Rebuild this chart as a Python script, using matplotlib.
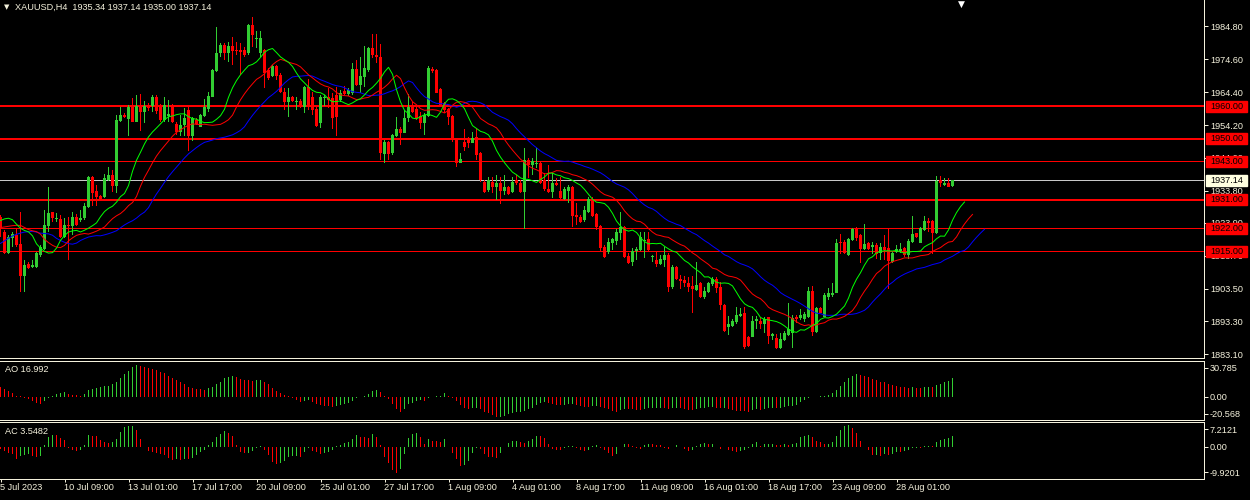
import numpy as np
import matplotlib
matplotlib.use('Agg')
import matplotlib.pyplot as plt
from matplotlib.patches import Rectangle
from matplotlib import transforms as mtransforms

plt.rcParams['font.family'] = ['Liberation Sans', 'DejaVu Sans']

# --- XAUUSD H4 candles (5 Jul 17:00 .. 30 Aug 05:00) ---
opens = [
    1925.8, 1921.1, 1914.4, 1919.3, 1920.1, 1917.3, 1907.4, 1911.0, 1910.3, 1910.3,
    1913.9, 1915.7, 1922.9, 1927.1, 1925.0, 1925.1, 1919.6, 1923.2, 1923.0, 1925.8,
    1924.8, 1925.5, 1928.7, 1938.0, 1933.8, 1932.2, 1932.0, 1937.2, 1938.7, 1935.3,
    1955.6, 1957.3, 1956.1, 1959.9, 1955.3, 1959.9, 1958.4, 1959.9, 1960.1, 1963.0,
    1960.4, 1955.8, 1957.0, 1960.2, 1954.5, 1952.2, 1954.2, 1958.9, 1950.8, 1955.8,
    1953.7, 1957.0, 1959.1, 1963.0, 1971.1, 1976.5, 1979.0, 1976.7, 1978.7, 1977.5,
    1977.5, 1977.5, 1976.5, 1985.2, 1980.8, 1976.7, 1977.5, 1971.3, 1969.4, 1972.5,
    1969.7, 1964.3, 1961.5, 1962.8, 1961.5, 1961.8, 1959.9, 1965.9, 1963.0, 1959.1,
    1954.7, 1962.5, 1963.0, 1962.5, 1963.5, 1962.0, 1964.8, 1963.7, 1964.0, 1971.5,
    1966.6, 1969.2, 1971.3, 1978.0, 1975.9, 1975.4, 1945.2, 1949.0, 1945.4, 1950.8,
    1953.0, 1951.8, 1956.3, 1960.1, 1959.1, 1957.0, 1954.7, 1957.0, 1971.5, 1971.3,
    1965.3, 1961.1, 1959.1, 1957.0, 1949.8, 1942.5, 1949.0, 1950.1, 1948.7, 1950.6,
    1945.4, 1936.6, 1934.1, 1936.6, 1935.1, 1936.3, 1933.9, 1934.9, 1933.5, 1937.2,
    1936.3, 1933.5, 1943.4, 1941.8, 1942.0, 1942.5, 1937.2, 1934.3, 1933.5, 1936.3,
    1933.9, 1931.2, 1933.9, 1934.9, 1926.3, 1925.6, 1924.6, 1927.3, 1931.2, 1926.6,
    1922.9, 1916.5, 1914.9, 1917.7, 1918.3, 1920.8, 1922.7, 1913.6, 1911.8, 1915.2,
    1915.5, 1918.2, 1918.8, 1913.2, 1912.4, 1911.1, 1912.4, 1913.9, 1903.9, 1910.3,
    1906.6, 1906.2, 1905.3, 1904.3, 1903.0, 1905.1, 1900.8, 1902.5, 1904.9, 1906.4,
    1904.1, 1898.4, 1891.5, 1891.9, 1893.0, 1895.0, 1895.8, 1888.6, 1888.6, 1893.5,
    1893.5, 1892.5, 1894.6, 1888.8, 1888.1, 1885.0, 1887.5, 1889.1, 1889.6, 1894.6,
    1894.3, 1893.9, 1894.8, 1902.8, 1890.1, 1897.4, 1894.8, 1901.0, 1901.5, 1902.2,
    1918.0, 1918.0, 1913.9, 1918.6, 1921.9, 1920.1, 1915.7, 1917.5, 1916.3, 1917.0,
    1914.4, 1916.3, 1916.0, 1911.8, 1914.9, 1915.2, 1916.0, 1913.9, 1918.0, 1920.6,
    1917.7, 1921.7, 1924.5, 1924.5, 1920.8, 1937.2, 1935.6, 1936.3, 1935.34,
]
highs = [
    1926.3, 1921.6, 1920.1, 1921.1, 1922.2, 1927.3, 1912.3, 1911.8, 1912.3, 1914.9,
    1917.0, 1927.9, 1935.1, 1927.3, 1926.8, 1926.3, 1925.3, 1925.8, 1927.3, 1926.6,
    1927.9, 1929.9, 1938.4, 1938.5, 1935.6, 1932.5, 1938.9, 1941.1, 1940.3, 1957.3,
    1959.7, 1957.8, 1960.4, 1962.5, 1963.5, 1963.7, 1961.8, 1960.9, 1963.5, 1963.5,
    1960.6, 1962.8, 1962.0, 1960.6, 1955.3, 1957.3, 1959.4, 1959.9, 1956.8, 1956.3,
    1957.6, 1962.2, 1964.6, 1971.5, 1984.5, 1979.6, 1979.6, 1980.1, 1981.4, 1980.1,
    1979.6, 1978.5, 1985.5, 1987.8, 1983.5, 1983.5, 1977.7, 1971.8, 1972.8, 1972.8,
    1970.2, 1965.6, 1965.6, 1963.2, 1962.8, 1962.2, 1966.3, 1968.4, 1964.6, 1959.9,
    1963.5, 1963.5, 1965.6, 1964.0, 1966.1, 1965.1, 1966.3, 1965.6, 1973.3, 1974.4,
    1975.4, 1978.7, 1978.5, 1982.4, 1982.4, 1979.3, 1949.6, 1949.2, 1951.4, 1956.8,
    1953.7, 1958.9, 1963.8, 1961.5, 1960.1, 1958.4, 1957.8, 1972.5, 1972.3, 1971.5,
    1965.6, 1961.5, 1959.4, 1957.3, 1950.1, 1945.6, 1952.9, 1950.4, 1952.2, 1953.2,
    1945.9, 1937.2, 1938.2, 1938.2, 1938.7, 1938.2, 1938.7, 1935.3, 1938.2, 1938.7,
    1937.2, 1947.0, 1943.9, 1943.9, 1947.0, 1942.9, 1939.2, 1941.8, 1939.2, 1937.9,
    1938.2, 1935.1, 1935.6, 1935.3, 1929.9, 1926.3, 1929.1, 1932.0, 1932.0, 1926.8,
    1923.2, 1917.0, 1919.1, 1919.1, 1921.9, 1927.3, 1922.9, 1914.4, 1916.0, 1916.5,
    1921.1, 1921.1, 1921.1, 1913.9, 1914.9, 1913.9, 1916.3, 1914.4, 1910.8, 1910.5,
    1907.7, 1907.4, 1907.0, 1907.4, 1911.8, 1905.6, 1903.9, 1905.6, 1907.0, 1907.0,
    1905.6, 1898.7, 1895.0, 1894.0, 1897.7, 1897.4, 1897.7, 1888.8, 1895.0, 1895.0,
    1894.3, 1894.6, 1894.8, 1889.8, 1889.4, 1889.8, 1890.4, 1898.9, 1895.3, 1895.3,
    1897.0, 1896.3, 1904.1, 1904.3, 1897.9, 1897.9, 1902.0, 1903.6, 1905.3, 1918.8,
    1920.4, 1918.6, 1919.1, 1922.2, 1922.7, 1920.4, 1923.5, 1918.0, 1918.0, 1917.5,
    1917.5, 1920.1, 1922.2, 1914.9, 1917.0, 1917.5, 1916.3, 1918.8, 1926.0, 1920.8,
    1922.7, 1926.0, 1925.3, 1924.8, 1938.4, 1938.4, 1937.7, 1937.7, 1937.14,
]
lows = [
    1919.6, 1914.2, 1914.2, 1916.5, 1916.5, 1902.5, 1902.5, 1909.5, 1909.8, 1909.8,
    1913.4, 1915.5, 1921.1, 1924.2, 1924.2, 1919.1, 1919.1, 1912.4, 1920.1, 1923.0,
    1924.2, 1924.8, 1928.4, 1929.1, 1929.1, 1930.8, 1931.7, 1936.7, 1933.5, 1933.2,
    1955.3, 1956.3, 1950.9, 1955.0, 1955.0, 1952.5, 1954.7, 1958.7, 1958.4, 1957.5,
    1955.3, 1955.3, 1955.3, 1954.7, 1951.1, 1950.8, 1950.8, 1946.0, 1949.4, 1954.2,
    1953.5, 1956.8, 1958.4, 1962.8, 1970.8, 1975.4, 1974.4, 1973.9, 1972.8, 1975.9,
    1969.7, 1975.4, 1975.9, 1978.5, 1978.0, 1975.4, 1965.6, 1968.2, 1969.2, 1968.2,
    1964.0, 1958.9, 1956.8, 1961.5, 1958.9, 1959.4, 1957.8, 1958.9, 1957.3, 1953.5,
    1953.2, 1960.0, 1959.4, 1952.9, 1950.8, 1961.5, 1963.5, 1963.2, 1963.5, 1966.3,
    1964.0, 1966.1, 1970.8, 1974.9, 1973.3, 1943.4, 1942.5, 1943.4, 1944.9, 1950.6,
    1948.0, 1951.6, 1955.3, 1957.8, 1955.8, 1952.9, 1951.1, 1956.6, 1970.5, 1964.0,
    1960.1, 1958.0, 1954.2, 1949.0, 1941.1, 1942.3, 1946.3, 1947.0, 1948.5, 1943.4,
    1936.6, 1933.0, 1933.5, 1933.0, 1931.0, 1929.7, 1932.5, 1932.5, 1933.2, 1935.6,
    1933.2, 1921.9, 1937.7, 1938.7, 1940.8, 1935.9, 1933.9, 1933.0, 1931.5, 1935.3,
    1931.2, 1931.0, 1930.1, 1922.7, 1923.2, 1923.9, 1924.2, 1927.0, 1925.6, 1921.5,
    1915.2, 1912.9, 1914.2, 1915.5, 1917.0, 1918.6, 1912.9, 1911.1, 1910.5, 1912.4,
    1915.0, 1912.9, 1915.2, 1911.8, 1910.3, 1910.8, 1910.3, 1902.5, 1903.3, 1906.2,
    1903.3, 1904.1, 1902.5, 1896.0, 1902.8, 1900.5, 1900.2, 1902.0, 1904.3, 1902.0,
    1896.8, 1890.1, 1889.1, 1891.5, 1892.5, 1894.8, 1884.6, 1885.5, 1888.4, 1890.9,
    1890.9, 1889.8, 1886.3, 1887.5, 1884.6, 1884.6, 1887.3, 1888.8, 1885.0, 1892.9,
    1893.7, 1893.2, 1894.3, 1888.8, 1889.8, 1895.8, 1894.6, 1900.0, 1901.0, 1902.0,
    1914.2, 1914.2, 1913.7, 1918.3, 1918.3, 1911.5, 1915.4, 1915.4, 1914.2, 1912.6,
    1912.3, 1912.3, 1903.2, 1911.5, 1914.4, 1914.6, 1913.4, 1912.6, 1917.5, 1919.1,
    1917.5, 1921.4, 1921.1, 1914.2, 1920.4, 1935.1, 1935.3, 1934.9, 1935.00,
]
closes = [
    1922.0, 1914.4, 1919.6, 1920.3, 1917.0, 1907.4, 1910.8, 1909.8, 1910.8, 1914.4,
    1916.5, 1923.2, 1927.0, 1925.3, 1925.3, 1919.6, 1923.2, 1923.0, 1925.8, 1923.2,
    1925.5, 1929.1, 1938.0, 1933.2, 1932.0, 1931.3, 1937.7, 1938.7, 1935.3, 1955.8,
    1957.3, 1956.6, 1959.7, 1955.3, 1960.1, 1958.4, 1960.1, 1959.4, 1963.0, 1958.7,
    1955.8, 1960.4, 1957.6, 1955.3, 1952.2, 1954.2, 1956.3, 1950.8, 1956.3, 1954.5,
    1957.3, 1959.7, 1963.2, 1971.3, 1976.7, 1979.0, 1976.7, 1978.7, 1977.3, 1977.3,
    1977.0, 1975.9, 1985.2, 1982.1, 1981.1, 1981.1, 1970.5, 1968.7, 1972.5, 1969.4,
    1964.6, 1961.5, 1962.8, 1961.8, 1961.8, 1959.9, 1965.9, 1959.9, 1958.9, 1953.9,
    1963.0, 1963.0, 1962.0, 1956.3, 1956.8, 1964.2, 1963.8, 1965.1, 1971.5, 1966.6,
    1969.4, 1971.8, 1978.0, 1975.9, 1975.4, 1945.4, 1949.0, 1945.2, 1951.1, 1953.0,
    1951.6, 1956.3, 1959.9, 1958.4, 1956.3, 1954.9, 1957.3, 1971.8, 1971.1, 1964.2,
    1960.4, 1958.9, 1956.8, 1949.6, 1942.5, 1943.6, 1947.5, 1948.5, 1950.1, 1944.9,
    1937.2, 1933.5, 1937.2, 1935.1, 1936.3, 1933.9, 1935.1, 1932.8, 1936.6, 1936.1,
    1933.5, 1943.4, 1941.8, 1943.0, 1942.5, 1936.3, 1934.3, 1933.5, 1936.3, 1935.6,
    1931.5, 1934.3, 1935.1, 1926.0, 1925.6, 1924.2, 1927.9, 1931.2, 1926.0, 1922.7,
    1916.0, 1913.2, 1918.0, 1918.8, 1921.1, 1922.7, 1913.4, 1911.3, 1915.2, 1915.7,
    1919.6, 1918.6, 1915.5, 1913.6, 1911.1, 1912.6, 1913.9, 1904.1, 1910.3, 1906.4,
    1905.9, 1905.1, 1903.9, 1903.3, 1904.6, 1900.8, 1902.8, 1905.3, 1906.4, 1903.6,
    1898.4, 1890.4, 1892.5, 1893.5, 1895.3, 1895.6, 1885.5, 1885.7, 1893.5, 1894.0,
    1892.5, 1894.0, 1888.8, 1889.4, 1885.0, 1887.7, 1889.6, 1890.9, 1894.3, 1894.0,
    1895.3, 1895.5, 1902.8, 1890.1, 1897.4, 1896.0, 1901.5, 1902.2, 1902.2, 1917.7,
    1917.5, 1914.4, 1918.8, 1921.9, 1919.1, 1915.7, 1917.3, 1915.7, 1917.0, 1914.2,
    1916.3, 1915.4, 1912.1, 1914.6, 1915.7, 1915.7, 1913.9, 1918.3, 1920.4, 1919.4,
    1922.2, 1924.5, 1923.9, 1920.8, 1937.0, 1936.3, 1936.3, 1935.1, 1937.14,
]

# Alligator values on the first shifted bars (computed from bars left of the window)
jaw_head = [1917.5, 1918.3, 1919.1, 1919.8, 1920.3, 1920.7, 1921.0, 1921.1]
teeth_head = [1922.4, 1922.6, 1922.8, 1923.0, 1923.1]
lips_head = [1924.6, 1925.1, 1925.3]

# Awesome Oscillator, one value per bar
ao_values = [
    8.5, 6.7, 5.2, 3.0, 0.9, 0.3, -0.9, -2.1, -3.9, -5.5,
    -6.7, -3.9, -0.9, 0.6, 2.1, 3.0, 3.9, 2.1, 1.5, 1.2,
    0.9, 2.1, 6.1, 7.0, 8.2, 8.8, 9.4, 10.0, 11.2, 13.0,
    16.7, 20.6, 23.6, 26.7, 28.8, 27.9, 26.7, 25.8, 25.2, 24.2,
    22.7, 21.2, 19.1, 16.7, 15.2, 13.0, 11.2, 9.1, 7.6, 7.0,
    6.7, 6.4, 7.6, 8.8, 11.2, 13.6, 16.7, 18.2, 19.1, 17.6,
    16.1, 15.2, 14.8, 14.2, 14.8, 15.2, 13.6, 11.2, 7.6, 5.2,
    3.0, 1.2, 0.3, -1.2, -2.7, -4.5, -3.9, -3.3, -5.2, -6.4,
    -7.6, -8.2, -8.8, -9.1, -8.2, -7.6, -7.0, -6.1, -3.9, -1.5,
    -0.6, 0.9, 2.1, 5.5, 6.1, 4.5, 0.6, -2.1, -7.0, -11.2,
    -13.6, -11.2, -7.0, -5.5, -3.9, -3.0, -3.6, -0.9, -0.3, 0.3,
    0.9, 3.3, 0.9, -0.9, -3.9, -7.6, -10.0, -11.2, -10.6, -10.3,
    -11.2, -13.6, -15.2, -16.7, -18.5, -18.2, -17.3, -16.1, -15.2, -14.2,
    -13.6, -13.0, -11.5, -10.0, -7.6, -6.1, -5.2, -6.1, -7.0, -7.2,
    -7.6, -7.3, -7.0, -6.8, -7.6, -8.2, -9.1, -9.3, -8.2, -8.0,
    -9.1, -10.0, -11.2, -13.0, -13.6, -12.1, -11.2, -11.4, -11.6, -12.1,
    -12.3, -11.2, -10.6, -10.4, -10.2, -10.0, -10.6, -11.2, -10.6, -10.0,
    -10.6, -11.2, -12.1, -12.3, -11.2, -10.6, -10.0, -9.8, -9.1, -10.0,
    -10.6, -10.0, -11.2, -12.1, -13.0, -13.2, -13.4, -13.5, -12.1, -11.2,
    -12.1, -11.2, -10.6, -10.0, -10.2, -9.9, -9.1, -8.9, -8.2, -7.6,
    -4.5, -3.0, -0.9, -0.2, 0.1, 0.9, 1.0, 1.5, 3.0, 6.1,
    9.7, 13.6, 16.7, 19.1, 20.3, 19.7, 19.1, 18.2, 16.1, 15.2,
    13.6, 13.0, 11.2, 10.6, 10.0, 9.1, 8.5, 8.2, 8.5, 8.3,
    8.1, 8.5, 8.9, 8.7, 10.5, 12.0, 13.2, 14.5, 16.992,
]
# Accelerator values of the first four bars (need AO from before the window)
ac_head = [-0.5, -1.3, -1.8, -2.3]

levels = [1960.0, 1950.0, 1943.0, 1931.0, 1922.0, 1915.0]
bold_levels = [1960.0, 1950.0, 1931.0]
bid = 1937.14
price_ticks = [1984.8, 1974.6, 1964.4, 1954.2, 1944.0, 1933.8, 1923.9, 1913.7, 1903.5, 1893.3, 1883.1]
date_labels = ['5 Jul 2023', '10 Jul 09:00', '13 Jul 01:00', '17 Jul 17:00', '20 Jul 09:00',
               '25 Jul 01:00', '27 Jul 17:00', '1 Aug 09:00', '4 Aug 01:00', '8 Aug 17:00',
               '11 Aug 09:00', '16 Aug 01:00', '18 Aug 17:00', '23 Aug 09:00', '28 Aug 01:00']

# --- styling ---
W, H = 1250, 500
PLOT_W = 1204          # right price scale starts here (pixels)
PX = 0.72              # one pixel in points at 100 dpi
FG = '#f4f1dc'
BULL = '#32cd32'
BEAR = '#ff0000'
FS = 6.6
BAR_PX = 0.25          # one pixel in bar units (4 px per bar)


def smma(values, period, seed):
    out = []
    s = seed
    for v in values:
        s = (s * (period - 1) + v) / period
        out.append(s)
    return np.array(out)


def frame(bottom_px, top_px):
    return [0, 1 - bottom_px / H, PLOT_W / W, (bottom_px - top_px) / H]


o, h, l, c = (np.array(a) for a in (opens, highs, lows, closes))
x = np.arange(len(c))
median = (h + l) / 2

fig = plt.figure(figsize=(W / 100, H / 100), dpi=100, facecolor='black')
ax = fig.add_axes(frame(358, 0))
ax_ao = fig.add_axes(frame(420, 360.7))
ax_ac = fig.add_axes(frame(479, 422.3))

for a in (ax, ax_ao, ax_ac):
    a.set_facecolor('black')
    a.set_xlim(-0.125, (PLOT_W - 0.5) / 4)
    a.spines['left'].set_visible(False)
    for side in ('right', 'bottom', 'top'):
        a.spines[side].set_color(FG)
        a.spines[side].set_linewidth(PX)
    a.yaxis.tick_right()
    a.tick_params(axis='y', colors=FG, labelcolor=FG, length=4 * PX, width=PX,
                  pad=2 * PX, labelsize=FS)
    a.tick_params(axis='x', bottom=False, labelbottom=False)
ax.spines['top'].set_visible(False)

# --- price panel ---
ymin, ymax = 1881.95, 1992.99
ax.set_ylim(ymin, ymax)
ax.set_yticks(price_ticks)
ax.set_yticklabels([f'{p:.2f}' for p in price_ticks])
px_price = (ymax - ymin) / 358      # one pixel in price units

for lev in levels:
    half = (1.0 if lev in bold_levels else 0.5) * px_price
    ax.axhspan(lev - half, lev + half, color=BEAR, lw=0, antialiased=False, zorder=2)
ax.axhspan(bid - 0.5 * px_price, bid + 0.5 * px_price, color='#c8c8c8', lw=0,
           antialiased=False, zorder=2)

col = np.where(c >= o, BULL, BEAR)
ax.bar(x, h - l, bottom=l, width=BAR_PX, color=col, linewidth=0, antialiased=False, zorder=3)
ax.bar(x, np.maximum(np.abs(c - o), px_price), bottom=np.minimum(o, c), width=3 * BAR_PX,
       color=col, linewidth=0, antialiased=False, zorder=4)

jaw = np.r_[jaw_head, smma(median, 13, jaw_head[-1])]
teeth = np.r_[teeth_head, smma(median, 8, teeth_head[-1])]
lips = np.r_[lips_head, smma(median, 5, lips_head[-1])]
ax.plot(np.arange(len(jaw)), jaw, color='#0000ff', lw=PX, zorder=5)
ax.plot(np.arange(len(teeth)), teeth, color='#ff0000', lw=PX, zorder=5)
ax.plot(np.arange(len(lips)), lips, color='#00ff00', lw=PX, zorder=5)

# price labels on the right scale
trans = mtransforms.blended_transform_factory(ax.transAxes, ax.transData)
box_h = 11 * px_price
for lev in levels:
    ax.add_patch(Rectangle((1206 / PLOT_W, lev - box_h / 2), 41 / PLOT_W, box_h,
                           transform=trans, color=BEAR, clip_on=False, zorder=6))
    ax.text(1210 / PLOT_W, lev, f'{lev:.2f}', transform=trans, color='black',
            fontsize=FS, va='center', ha='left', clip_on=False, zorder=7)
ax.add_patch(Rectangle((1206 / PLOT_W, bid - box_h / 2), 41 / PLOT_W, box_h,
                       transform=trans, color='#ffffe0', clip_on=False, zorder=6))
ax.text(1210 / PLOT_W, bid, f'{bid:.2f}', transform=trans, color='black',
        fontsize=FS, va='center', ha='left', clip_on=False, zorder=7)

# --- Awesome Oscillator ---
ao = np.array(ao_values)
ao_col = np.where(np.r_[False, ao[1:] > ao[:-1]], BULL, BEAR)
ax_ao.bar(x, ao, width=BAR_PX, color=ao_col, linewidth=0, antialiased=False)
ax_ao.set_ylim(-21.18, 32.73)
ax_ao.set_yticks([26.36, 0, -15.45])
ax_ao.set_yticklabels(['30.785', '0.00', '-20.568'])

# --- Accelerator Oscillator: AO minus its 5-bar average ---
ac = np.r_[ac_head, ao[4:] - np.convolve(ao, np.ones(5) / 5, mode='valid')]
ac_col = np.where(np.r_[False, ac[1:] > ac[:-1]], BULL, BEAR)
ax_ac.bar(x, ac, width=BAR_PX, color=ac_col, linewidth=0, antialiased=False)
ax_ac.set_ylim(-10.16, 7.84)
ax_ac.set_yticks([5.71, 0, -8.03])
ax_ac.set_yticklabels(['7.2121', '0.00', '-9.9201'])

ax_ac.tick_params(axis='x', bottom=True, labelbottom=True, colors=FG, labelcolor=FG,
                  direction='out', length=3 * PX, width=PX, pad=1.5 * PX, labelsize=FS)
ax_ac.set_xticks(np.arange(len(date_labels)) * 16)
ax_ac.set_xticklabels(date_labels, ha='left')

# --- header texts ---
fig.text(4 / W, 1 - 7 / H, '\u25bc', color=FG, fontsize=5, va='center',
         family=['DejaVu Sans'])
fig.text(15 / W, 1 - 7 / H, 'XAUUSD,H4  1935.34 1937.14 1935.00 1937.14',
         color=FG, fontsize=FS, va='center')
fig.text(961 / W, 1 - 4 / H, '\u25bc', color='white', fontsize=6.5, va='center',
         ha='center', family=['DejaVu Sans'])
fig.text(5 / W, 1 - 369.7 / H, 'AO 16.992', color=FG, fontsize=FS, va='center')
fig.text(5 / W, 1 - 431.7 / H, 'AC 3.5482', color=FG, fontsize=FS, va='center')

fig.savefig('out.png', dpi=100, facecolor='black')
